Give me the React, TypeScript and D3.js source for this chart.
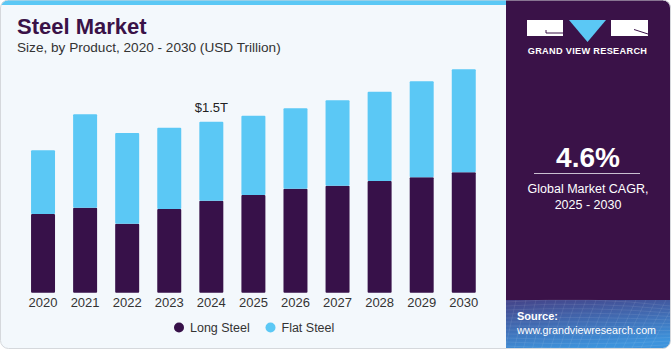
import React from "react";
import * as d3 from "d3";

// values (USD trillion)
const years = ["2020", "2021", "2022", "2023", "2024", "2025", "2026", "2027", "2028", "2029", "2030"];
const longSteel = [0.69, 0.746, 0.605, 0.734, 0.807, 0.857, 0.912, 0.939, 0.98, 1.012, 1.056];
const flatSteel = [0.56, 0.819, 0.795, 0.713, 0.693, 0.696, 0.706, 0.749, 0.783, 0.842, 0.904];
const seriesNames = ["Long Steel", "Flat Steel"];
const seriesColors = ["#371149", "#5bc8f5"];
const callout = { year: "2024", label: "$1.5T" };

const W = 671;
const H = 350;
const PANEL_X = 506;
const PURPLE = "#3a1248";

const App = () => {
  //scales
  const x = d3.scaleBand().domain(years).range([22, 484.8]).paddingInner(0.43).paddingOuter(0.215);
  const y = d3.scaleLinear().domain([0, 2]).range([292.7, 292.7 - 228]);

  const rows = years.map((yr, i) => ({ year: yr, long: longSteel[i], flat: flatSteel[i] }));
  const stacked = d3.stack<any>().keys(["long", "flat"])(rows);

  const calloutRow = rows.find((r) => r.year === callout.year)!;
  const font = "'Liberation Sans', Arial, sans-serif";

  return (
    <svg width={W} height={H} style={{ position: "absolute", left: 0, top: 0, fontFamily: font }}>
      <defs>
        <linearGradient id="src" x1="0" y1="0" x2="0.3" y2="1">
          <stop offset="0" stopColor="#454388" />
          <stop offset="1" stopColor="#3d93dc" />
        </linearGradient>
        <clipPath id="card">
          <rect x={0.5} y={0} width={W - 1} height={H - 1.5} rx={8} />
        </clipPath>
      </defs>

      {/* card background */}
      <g clipPath="url(#card)">
        <rect x={0} y={0} width={W} height={H} fill="#f3f8fc" />
        <rect x={0} y={0} width={PANEL_X} height={5} fill="#5bc8f5" />
        <rect x={PANEL_X} y={0} width={W - PANEL_X} height={300} fill={PURPLE} />
        <rect x={PANEL_X} y={300} width={W - PANEL_X} height={50} fill="url(#src)" />
        {/* faint grid texture on the source box */}
        <g stroke="#ffffff" strokeOpacity={0.12} strokeWidth={0.7} fill="none">
          {d3.range(0, 12).map((i) => (
            <path key={"h" + i} d={`M${PANEL_X},${302 + i * 4} Q${590},${296 + i * 5} ${W},${306 + i * 3.5}`} />
          ))}
          {d3.range(0, 18).map((i) => (
            <path key={"v" + i} d={`M${PANEL_X + i * 10},300 L${PANEL_X + i * 9 - 10},350`} />
          ))}
        </g>
      </g>
      <rect x={0.5} y={0} width={W - 1} height={H - 1.5} rx={8} fill="none" stroke="#d5d8dc" strokeWidth={1} />

      {/* titles */}
      <text x={17} y={34} fontSize={22} fontWeight="bold" fill={PURPLE}>
        Steel Market
      </text>
      <text x={17} y={52} fontSize={13.6} fill="#333">
        Size, by Product, 2020 - 2030 (USD Trillion)
      </text>

      {/* bars */}
      {stacked.map((layer, si) => (
        <g key={layer.key} fill={seriesColors[si]}>
          {layer.map((d) => (
            <rect
              key={d.data.year}
              x={x(d.data.year)}
              y={y(d[1])}
              width={x.bandwidth()}
              height={y(d[0]) - y(d[1])}
              rx={1}
            />
          ))}
        </g>
      ))}

      {/* callout */}
      <text
        x={x(callout.year)! + x.bandwidth() / 2}
        y={y(calloutRow.long + calloutRow.flat) - 10}
        textAnchor="middle"
        fontSize={13}
        fill="#222"
      >
        {callout.label}
      </text>

      {/* x axis labels */}
      {years.map((yr) => (
        <text key={yr} x={x(yr)! + x.bandwidth() / 2} y={307} textAnchor="middle" fontSize={13} fill="#333">
          {yr}
        </text>
      ))}

      {/* legend */}
      {seriesNames.map((name, i) => (
        <g key={name} transform={`translate(${179 + i * 91.5},327.5)`}>
          <circle r={5} fill={seriesColors[i]} />
          <text x={11} y={4.5} fontSize={12.5} fill="#333">
            {name}
          </text>
        </g>
      ))}

      {/* logo */}
      <g>
        <rect x={527} y={20} width={36} height={16} fill="#fff" />
        <path d="M546,30 L546,33 L563,33" stroke={PURPLE} strokeWidth={1} fill="none" />
        <path d="M569,20 L606,20 L587.5,42 Z" fill="#5bc8f5" />
        <rect x={611} y={20} width={37} height={16} fill="#fff" />
        <path d="M634,29.5 L648,34" stroke={PURPLE} strokeWidth={1} fill="none" />
        <text x={587.5} y={54} textAnchor="middle" fontSize={9.2} fontWeight="bold" fill="#fff" letterSpacing={0.3}>
          GRAND VIEW RESEARCH
        </text>
      </g>

      {/* CAGR */}
      <text x={588} y={167} textAnchor="middle" fontSize={28} fontWeight="bold" fill="#fff">
        4.6%
      </text>
      <line x1={534} x2={640} y1={173.5} y2={173.5} stroke="#c9bfd0" strokeWidth={1} />
      <text x={588} y={193} textAnchor="middle" fontSize={12.5} fill="#fff">
        Global Market CAGR,
      </text>
      <text x={588} y={209} textAnchor="middle" fontSize={12.5} fill="#fff">
        2025 - 2030
      </text>

      {/* source */}
      <text x={517} y={320} fontSize={11} fontWeight="bold" fill="#fff">
        Source:
      </text>
      <text x={517} y={334} fontSize={10.7} fill="#fff">
        www.grandviewresearch.com
      </text>
    </svg>
  );
};

export default App;
